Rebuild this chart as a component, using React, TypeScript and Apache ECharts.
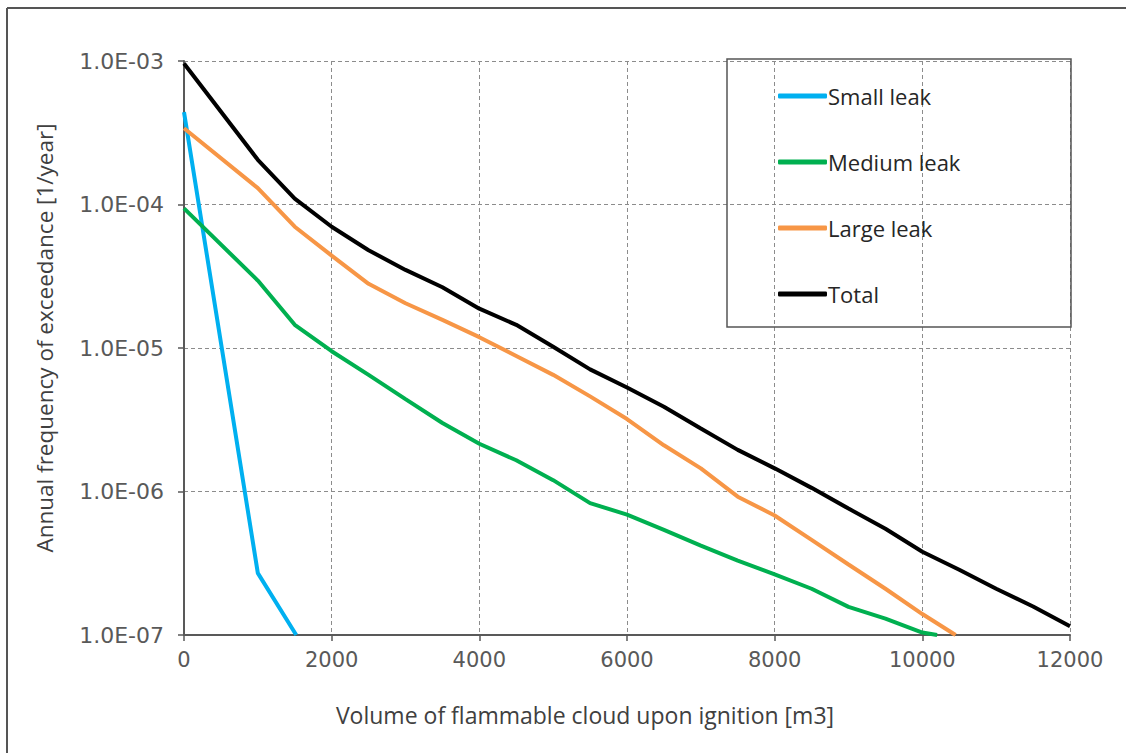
import React, { useEffect, useRef } from "react";
import * as echarts from "echarts";

const seriesNames = ["Small leak", "Medium leak", "Large leak", "Total"];
const seriesColors = ["#00B0F0", "#00B050", "#F79646", "#000000"];

const smallLeak: [number, number][] = [
  [0, 4.4e-4], [1000, 2.7e-7], [1520, 1.0e-7],
];
const mediumLeak: [number, number][] = [
  [0, 9.4e-5], [1000, 2.95e-5], [1500, 1.45e-5], [2000, 9.5e-6], [2500, 6.5e-6],
  [3000, 4.4e-6], [3500, 3.0e-6], [4000, 2.15e-6], [4500, 1.65e-6], [5000, 1.2e-6],
  [5500, 8.3e-7], [6000, 6.9e-7], [6500, 5.4e-7], [7000, 4.2e-7], [7500, 3.3e-7],
  [8000, 2.65e-7], [8500, 2.1e-7], [9000, 1.57e-7], [9500, 1.3e-7], [10000, 1.04e-7],
  [10200, 1.0e-7],
];
const largeLeak: [number, number][] = [
  [0, 3.4e-4], [1000, 1.3e-4], [1500, 7.0e-5], [2000, 4.4e-5], [2500, 2.8e-5],
  [3000, 2.05e-5], [3500, 1.57e-5], [4000, 1.19e-5], [4500, 8.8e-6], [5000, 6.5e-6],
  [5500, 4.6e-6], [6000, 3.2e-6], [6500, 2.1e-6], [7000, 1.45e-6], [7500, 9.2e-7],
  [8000, 6.8e-7], [8500, 4.6e-7], [9000, 3.1e-7], [9500, 2.1e-7], [10000, 1.4e-7],
  [10450, 1.0e-7],
];
const total: [number, number][] = [
  [0, 9.6e-4], [1000, 2.05e-4], [1500, 1.1e-4], [2000, 7.0e-5], [2500, 4.8e-5],
  [3000, 3.5e-5], [3500, 2.65e-5], [4000, 1.88e-5], [4500, 1.45e-5], [5000, 1.02e-5],
  [5500, 7.1e-6], [6000, 5.3e-6], [6500, 3.9e-6], [7000, 2.75e-6], [7500, 1.95e-6],
  [8000, 1.45e-6], [8500, 1.06e-6], [9000, 7.6e-7], [9500, 5.5e-7], [10000, 3.8e-7],
  [10500, 2.85e-7], [11000, 2.1e-7], [11500, 1.58e-7], [12000, 1.15e-7],
];
const seriesData = [smallLeak, mediumLeak, largeLeak, total];

const xTitle = "Volume of flammable cloud upon ignition [m3]";
const yTitle = "Annual frequency of exceedance [1/year]";

function fmtExp(v: number): string {
  const e = Math.round(Math.log10(v));
  const m = v / Math.pow(10, e);
  const sign = e < 0 ? "-" : "+";
  const abs = Math.abs(e);
  return m.toFixed(1) + "E" + sign + (abs < 10 ? "0" + abs : String(abs));
}

export default function App() {
  const ref = useRef<HTMLDivElement>(null);
  useEffect(() => {
    document.body.style.margin = "0";
    const chart = echarts.init(ref.current!, null, { renderer: "svg" });
    chart.setOption({
      animation: false,
      backgroundColor: "#ffffff",
      grid: { left: 184, right: 56, top: 61, bottom: 118, containLabel: false },
      legend: {
        data: seriesNames,
        orient: "vertical",
        left: 773,
        top: 79,
        itemWidth: 49,
        itemHeight: 5,
        itemGap: 42,
        icon: "roundRect",
        textStyle: { fontFamily: "Open Sans", fontSize: 22, color: "#262626", lineHeight: 24, padding: [0, 0, 0, -4] },
      },
      graphic: [
        { type: "rect", shape: { x: 727, y: 59, width: 344, height: 268 }, style: { fill: "none", stroke: "#555555", lineWidth: 1.5 }, z: 100 },
        { type: "line", shape: { x1: 7, y1: 8, x2: 1126, y2: 8 }, style: { stroke: "#555555", lineWidth: 2 } },
        { type: "line", shape: { x1: 7, y1: 8, x2: 7, y2: 753 }, style: { stroke: "#555555", lineWidth: 2 } },
        {
          type: "text", x: 585, y: 715,
          style: { text: xTitle, fontFamily: "Open Sans", fontSize: 23, fill: "#404040", align: "center", verticalAlign: "middle" },
        },
        {
          type: "text", x: 44, y: 338, rotation: Math.PI / 2,
          style: { text: yTitle, fontFamily: "Open Sans", fontSize: 22.5, fill: "#404040", align: "center", verticalAlign: "middle" },
        },
      ],
      xAxis: {
        type: "value",
        min: 0,
        max: 12000,
        interval: 2000,
        axisLine: { show: true, lineStyle: { color: "#595959", width: 2 } },
        axisTick: { show: true, length: 6, lineStyle: { color: "#595959", width: 1.5 } },
        axisLabel: { fontFamily: "DejaVu Sans", fontSize: 21, color: "#595959", margin: 14, formatter: (v: number) => String(v) },
        splitLine: { show: true, lineStyle: { color: "#8c8c8c", type: [4, 3], width: 1 } },
      },
      yAxis: {
        type: "log",
        logBase: 10,
        min: 1e-7,
        max: 1e-3,
        axisLine: { show: true, lineStyle: { color: "#595959", width: 2 } },
        axisTick: { show: true, length: 6, lineStyle: { color: "#595959", width: 1.5 } },
        axisLabel: { fontFamily: "DejaVu Sans", fontSize: 22, color: "#595959", margin: 20, formatter: (v: number) => fmtExp(v) },
        splitLine: { show: true, lineStyle: { color: "#8c8c8c", type: [4, 3], width: 1 } },
        minorTick: { show: false },
      },
      series: seriesNames.map((name, i) => ({
        name,
        type: "line",
        data: seriesData[i],
        showSymbol: false,
        symbol: "none",
        clip: true,
        lineStyle: { color: seriesColors[i], width: 4 },
        itemStyle: { color: seriesColors[i] },
        z: 2 + i,
      })),
    });
    return () => chart.dispose();
  }, []);
  return <div ref={ref} style={{ width: 1126, height: 753 }} />;
}
